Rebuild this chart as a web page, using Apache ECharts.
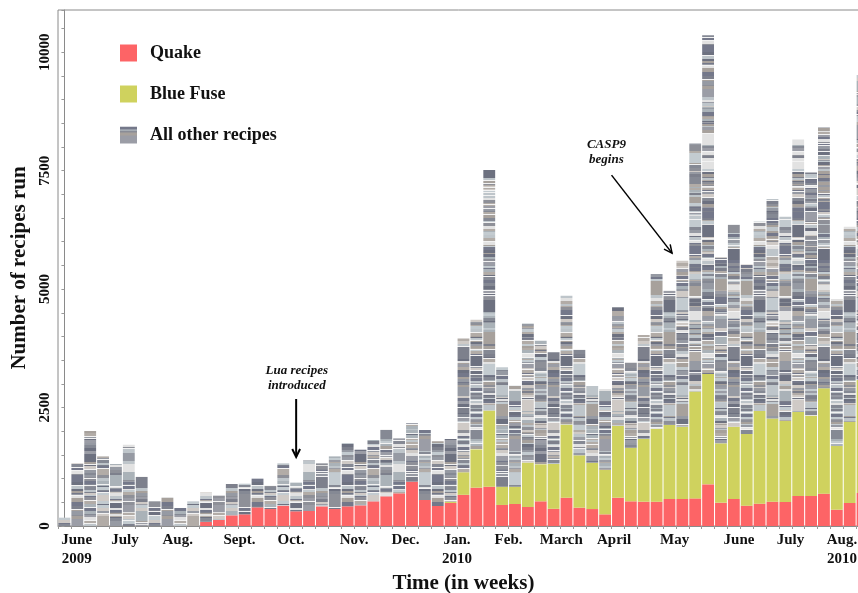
<!DOCTYPE html>
<html lang="en" style="height: 100%">
<head>
  <meta charset="utf-8">
</head>
<body style="height: 100%; margin: 0; background: #fff">
  <div id="container" style="height: 100%"></div>

  <script type="text/javascript" src="https://fastly.jsdelivr.net/npm/echarts@6.0.0/dist/echarts.min.js"></script>
  <script type="text/javascript">
    // weekly recipe runs
    var quake = [0, 0, 0, 0, 0, 0, 0, 0, 0, 0, 0, 84, 127, 225, 246, 394, 358, 429, 310, 317,
      415, 358, 415, 436, 521, 626, 690, 936, 549, 422, 486, 658, 809, 829, 444, 464, 401, 521,
      363, 597, 387, 358, 246, 597, 521, 513, 513, 570, 570, 583, 879, 492, 570, 429, 471, 513,
      506, 633, 633, 683, 344, 485, 697];
    var blueFuse = [0, 0, 0, 0, 0, 0, 0, 0, 0, 0, 0, 0, 0, 0, 0, 0, 0, 0, 0, 0, 0, 0, 0, 0, 0, 0,
      0, 0, 0, 0, 25, 476, 811, 1611, 386, 366, 938, 784, 946, 1547, 1104, 977, 936, 1519, 1132,
      1323, 1537, 1561, 1525, 2258, 2328, 1252, 1525, 1512, 1956, 1758, 1709, 1772, 1695, 2222,
      1344, 1717, 2384];
    var otherRecipes = [176, 1323, 2004, 1469, 1308, 1716, 1048, 521, 612, 380, 521, 626, 513,
      661, 647, 605, 499, 893, 605, 1068, 907, 1111, 1336, 1174, 1294, 1414, 1160, 1230, 1477,
      1364, 1325, 2825, 2734, 5071, 2519, 2132, 2937, 2606, 2356, 2716, 2237, 1618, 1708, 2507,
      1793, 2194, 3266, 2849, 3503, 5232, 7152, 3924, 4262, 3579, 4001, 4628, 4310, 5753, 5133,
      5507, 3101, 4114, 6435];

    // one category per week
    var weeks = [];
    var d0 = new Date(2009, 4, 25);
    for (var i = 0; i < quake.length; i++) {
      var d = new Date(d0.getTime() + i * 7 * 86400000);
      weeks.push(d.getFullYear() + '-' + (d.getMonth() + 1) + '-' + d.getDate());
    }

    // month tick labels and where they sit (in week units)
    var monthLabels = ['June\n2009', 'July', 'Aug.', 'Sept.', 'Oct.', 'Nov.', 'Dec.', 'Jan.\n2010',
      'Feb.', 'March', 'April', 'May', 'June', 'July', 'Aug.\n2010'];
    var monthPos = [0.95, 4.7, 8.8, 13.6, 17.6, 22.5, 26.5, 30.5, 34.5, 38.6, 42.7, 47.4, 52.4, 56.4, 60.4];

    var serif = '"Liberation Serif", "Times New Roman", serif';

    // striped texture for "all other recipes"
    var stripeGrays = ['#74788a', '#858994', '#9b9da6', '#b2aca7', '#a7a19c', '#c3cbd0',
      '#8e9098', '#bec5ca', '#6d7180', '#cfcac6', '#7d808c', '#969aa3', '#aab2b8', '#e2e2e2'];
    function makeStripes(seed) {
      var c = document.createElement('canvas');
      c.width = 16;
      c.height = 430;
      var ctx = c.getContext('2d');
      var s = seed;
      function next() { s = (s * 9301 + 49297) % 233280; return s / 233280; }
      var y = 0;
      while (y < c.height) {
        var r = next();
        var h = r < 0.05 ? 6 + Math.floor(next() * 7) : 1 + Math.floor(next() * 3);
        ctx.fillStyle = stripeGrays[Math.floor(next() * stripeGrays.length)];
        ctx.fillRect(0, y, c.width, h);
        y += h;
        if (next() < 0.18) {
          ctx.fillStyle = '#f2f2f2';
          ctx.fillRect(0, y, c.width, 1);
          y += 1;
        }
      }
      return c;
    }
    var patterns = [];
    for (var p = 0; p < 7; p++) {
      patterns.push({ image: makeStripes(17 + p * 131), repeat: 'repeat' });
    }

    var dom = document.getElementById('container');
    var myChart = echarts.init(dom, null, { renderer: 'canvas' });

    var option = {
      animation: false,
      textStyle: { fontFamily: serif },
      grid: {
        left: 58, right: -11, top: 10, bottom: 67,
        outerBoundsMode: 'none',
        containLabel: false,
        show: true, borderColor: '#8a8a8a', borderWidth: 1
      },
      legend: {
        orient: 'vertical',
        left: 115, top: 39,
        itemWidth: 17, itemHeight: 17, itemGap: 23,
        selectedMode: false,
        icon: 'rect',
        textStyle: { fontFamily: serif, fontWeight: 'bold', fontSize: 18, color: '#111', padding: [0, 0, 0, 8] },
        data: ['Quake', 'Blue Fuse', 'All other recipes']
      },
      xAxis: [
        {
          type: 'category',
          data: weeks,
          name: 'Time (in weeks)',
          nameLocation: 'middle',
          nameGap: 47,
          nameTextStyle: { fontFamily: serif, fontWeight: 'bold', fontSize: 21, color: '#111' },
          axisLine: { lineStyle: { color: '#8a8a8a' } },
          axisTick: { show: true, interval: 0, length: 3, lineStyle: { color: '#999' } },
          axisLabel: { show: false }
        },
        {
          type: 'value',
          min: -0.5, max: 62.5,
          position: 'bottom',
          axisLine: { show: false },
          axisTick: { show: false },
          splitLine: { show: false },
          axisLabel: {
            customValues: monthPos,
            margin: 5,
            fontFamily: serif, fontWeight: 'bold', fontSize: 15, lineHeight: 19, color: '#111',
            formatter: function (v) {
              for (var k = 0; k < monthPos.length; k++) {
                if (Math.abs(monthPos[k] - v) < 0.01) return monthLabels[k];
              }
              return '';
            }
          }
        }
      ],
      yAxis: {
        type: 'value',
        min: 0, max: 10890, interval: 2500,
        name: 'Number of recipes run',
        nameLocation: 'middle',
        nameGap: 28,
        nameTextStyle: { fontFamily: serif, fontWeight: 'bold', fontSize: 21, color: '#111' },
        axisLine: { show: true, lineStyle: { color: '#8a8a8a' } },
        axisTick: { show: true, length: 3, lineStyle: { color: '#999' } },
        minorTick: { show: true, splitNumber: 5, length: 3, lineStyle: { color: '#999' } },
        splitLine: { show: false },
        axisLabel: {
          rotate: 90, margin: 5,
          fontFamily: serif, fontWeight: 'bold', fontSize: 15, color: '#111',
          formatter: function (v) { return v % 2500 === 0 ? String(v) : ''; }
        }
      },
      series: [
        {
          name: 'Quake', type: 'bar', stack: 'runs', barWidth: '92%',
          itemStyle: { color: '#fd6466' },
          data: quake
        },
        {
          name: 'Blue Fuse', type: 'bar', stack: 'runs', barWidth: '92%',
          itemStyle: { color: '#cfd25e' },
          data: blueFuse
        },
        {
          name: 'All other recipes', type: 'bar', stack: 'runs', barWidth: '92%',
          itemStyle: { color: patterns[0] },
          data: otherRecipes.map(function (v, i) {
            return { value: v, itemStyle: { color: patterns[(i * 3) % patterns.length] } };
          })
        }
      ]
    };
    myChart.setOption(option);

    // annotations placed in data space (week index, runs)
    var notes = [
      { text: 'Lua recipes\nintroduced', at: [18.05, 2800], from: [18, 2680], to: [18, 1455], width: 2 },
      { text: 'CASP9\nbegins', at: [42.1, 7575], from: [42.5, 7405], to: [47.2, 5759], width: 1.5 }
    ];
    var finder = { xAxisIndex: 1, yAxisIndex: 0 };
    var elements = [];
    notes.forEach(function (n) {
      var t = myChart.convertToPixel(finder, n.at);
      var a = myChart.convertToPixel(finder, n.from);
      var b = myChart.convertToPixel(finder, n.to);
      var ang = Math.atan2(b[1] - a[1], b[0] - a[0]);
      var L = 9;
      var h1 = [b[0] - L * Math.cos(ang - 0.45), b[1] - L * Math.sin(ang - 0.45)];
      var h2 = [b[0] - L * Math.cos(ang + 0.45), b[1] - L * Math.sin(ang + 0.45)];
      elements.push({
        type: 'text', z: 100,
        style: {
          text: n.text, x: t[0], y: t[1],
          textAlign: 'center', textVerticalAlign: 'bottom',
          font: 'italic bold 13px ' + serif, lineHeight: 15, fill: '#111'
        }
      });
      elements.push({
        type: 'line', z: 100,
        shape: { x1: a[0], y1: a[1], x2: b[0], y2: b[1] },
        style: { stroke: '#000', lineWidth: n.width }
      });
      elements.push({
        type: 'polyline', z: 100,
        shape: { points: [h1, b, h2] },
        style: { stroke: '#000', lineWidth: n.width, fill: null }
      });
    });
    myChart.setOption({ graphic: elements });

    window.addEventListener('resize', myChart.resize);
  </script>
</body>
</html>
